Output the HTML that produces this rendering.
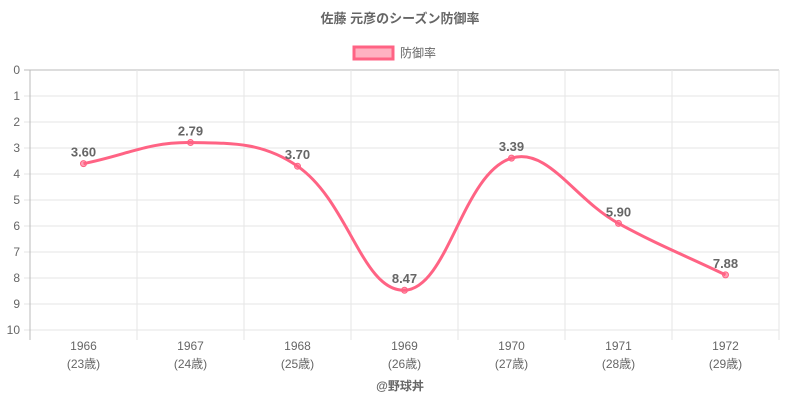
<!DOCTYPE html>
<html><head><meta charset="utf-8"><style>
body{margin:0;background:#fff;}
svg{display:block;font-family:"Liberation Sans","Noto Sans CJK JP",sans-serif;}
</style></head><body>
<svg id="c" width="800" height="400"></svg>
<script>
const categories=["1966","1967","1968","1969","1970","1971","1972"];
const ages=["(23歳)","(24歳)","(25歳)","(26歳)","(27歳)","(28歳)","(29歳)"];
const eraValues=[3.60,2.79,3.70,8.47,3.39,5.90,7.88];
const yTicks=[0,1,2,3,4,5,6,7,8,9,10];
const NS="http://www.w3.org/2000/svg";
const svg=document.getElementById('c');
const L=30,R=779,T=70,B=330,yMin=0,yMax=10;
const bw=(R-L)/categories.length;
const xs=i=>L+bw*(i+0.5);
const ys=v=>T+(v-yMin)/(yMax-yMin)*(B-T);
function mk(tag,attrs,parent){const e=document.createElementNS(NS,tag);for(const k in attrs)e.setAttribute(k,attrs[k]);(parent||svg).appendChild(e);return e;}
function txt(s,attrs){const e=mk('text',attrs);e.textContent=s;return e;}
// title
let t=txt("佐藤 元彦のシーズン防御率",{x:400,y:23,'text-anchor':'middle','font-size':13,'font-weight':'bold',fill:'#666'});

// legend
let lg=mk('g',{});
mk('rect',{x:354,y:47,width:39,height:12,fill:'rgba(255,99,132,0.5)',stroke:'#ff6384','stroke-width':3},lg);
let lt=mk('text',{x:400,y:57,'font-size':12,fill:'#666'},lg);lt.textContent="防御率";
// grid
let grid=mk('g',{});
yTicks.forEach(v=>{
  const y=ys(v);
  mk('line',{x1:L-6,x2:R,y1:y,y2:y,stroke:v===0?'#bbb':'#e5e5e5','stroke-width':1},grid);
  const tl=txt(String(v),{x:L-10,y:y+4,'text-anchor':'end','font-size':12,fill:'#666'});
  
});
for(let i=0;i<=categories.length;i++){
  const x=L+bw*i;
  mk('line',{x1:x,x2:x,y1:T,y2:B+10,stroke:i===0?'#bbb':'#e5e5e5','stroke-width':1},grid);
}
categories.forEach((c,i)=>{
  const a=txt(c,{x:xs(i),y:350,'text-anchor':'middle','font-size':12,fill:'#666'});
  
  const b=txt(ages[i],{x:xs(i),y:368,'text-anchor':'middle','font-size':12,fill:'#666'});
  
});
// spline (Chart.js style, tension 0.4)
const pts=eraValues.map((v,i)=>({x:xs(i),y:ys(v)}));
const tension=0.4;
const cps=pts.map((p,i)=>{
  const prev=pts[i-1]||p,next=pts[i+1]||p;
  const d01=Math.hypot(p.x-prev.x,p.y-prev.y),d12=Math.hypot(next.x-p.x,next.y-p.y);
  let fa=d01/(d01+d12)||0,fb=d12/(d01+d12)||0;
  fa*=tension;fb*=tension;
  return {px:p.x-fa*(next.x-prev.x),py:p.y-fa*(next.y-prev.y),nx:p.x+fb*(next.x-prev.x),ny:p.y+fb*(next.y-prev.y)};
});
let d=`M${pts[0].x},${pts[0].y}`;
for(let i=1;i<pts.length;i++){d+=` C${cps[i-1].nx},${cps[i-1].ny} ${cps[i].px},${cps[i].py} ${pts[i].x},${pts[i].y}`;}
const line=mk('path',{d:d,fill:'none',stroke:'#ff6384','stroke-width':3});

pts.forEach((p,i)=>{
  const c=mk('circle',{cx:p.x,cy:p.y,r:3,fill:'rgba(255,99,132,0.6)',stroke:'#ff6384','stroke-width':1});
  
  const l=txt(eraValues[i].toFixed(2),{x:p.x,y:p.y-7,'text-anchor':'middle','font-size':13,'font-weight':'bold',fill:'#666'});
  
});
const f=txt("@野球丼",{x:400,y:390,'text-anchor':'middle','font-size':12,'font-weight':'bold',fill:'#666'});

</script>
</body></html>
